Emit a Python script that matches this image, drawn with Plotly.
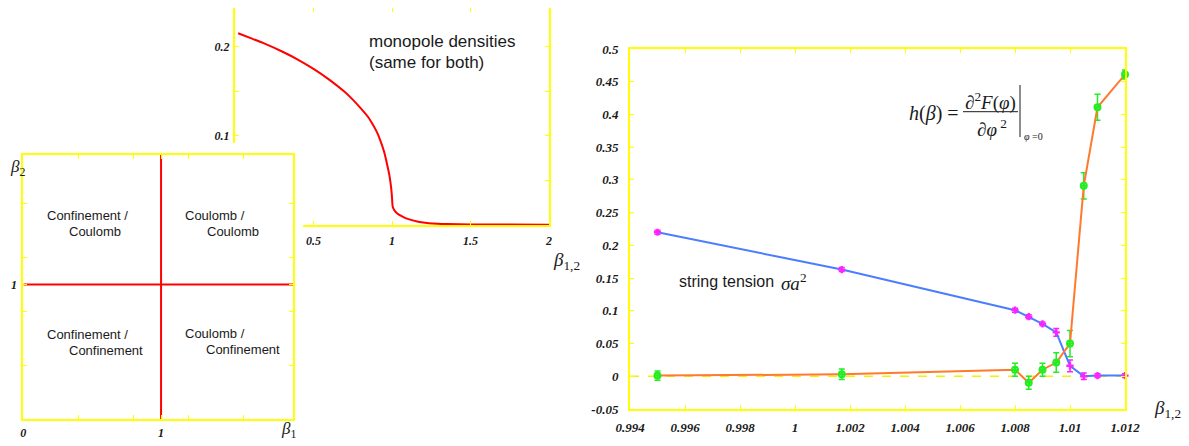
import plotly.graph_objects as go

W, H = 1189, 446
OFF = 8  # the page places the figure 8px from the top-left corner of the window
YEL = "#ffff00"
TXT = "#1a1a1a"

# ---------------- data ----------------
# middle panel: monopole density vs beta
rho_beta = [0.02, 0.1, 0.2, 0.3, 0.4, 0.5, 0.6, 0.7, 0.75, 0.8, 0.85, 0.875, 0.9, 0.92, 0.95, 0.97,
            0.985, 0.995, 1.0, 1.004, 1.012, 1.03, 1.07, 1.1, 1.16, 1.2, 1.26, 1.35, 1.5, 1.75, 2.0]
rho_val = [0.215, 0.2095, 0.2025, 0.1945, 0.1855, 0.175, 0.163, 0.149, 0.1405, 0.131, 0.1205, 0.1135,
           0.1055, 0.0975, 0.082, 0.067, 0.054, 0.041, 0.031, 0.021, 0.0175, 0.0135, 0.0092, 0.0068,
           0.0040, 0.0029, 0.0017, 0.0011, 0.0007, 0.0005, 0.0004]
mid_y_max = 0.25

# left panel: phase boundaries
crit_beta = 1.0
beta_span = [0.0, 1.96]

# right panel
beta_pts = [0.995, 1.0017, 1.008, 1.0085, 1.009, 1.0095, 1.010, 1.0105, 1.011, 1.012]
sigma = [0.220, 0.163, 0.101, 0.091, 0.080, 0.067, 0.016, 0.000, 0.001, 0.001]
sigma_err = [0.003, 0.003, 0.003, 0.003, 0.003, 0.006, 0.009, 0.005, 0.003, 0.003]
h_beta = [0.001, 0.003, 0.010, -0.010, 0.010, 0.021, 0.050, 0.291, 0.411, 0.461]
h_err = [0.007, 0.008, 0.010, 0.010, 0.010, 0.015, 0.020, 0.020, 0.020, 0.007]

right_xticks = [0.994, 0.996, 0.998, 1.0, 1.002, 1.004, 1.006, 1.008, 1.01, 1.012]
right_xtext = ["0.994", "0.996", "0.998", "1", "1.002", "1.004", "1.006", "1.008", "1.01", "1.012"]
right_yticks = [-0.05, 0, 0.05, 0.1, 0.15, 0.2, 0.25, 0.3, 0.35, 0.4, 0.45, 0.5]
right_ytext = ["-0.05", "0", "0.05", "0.1", "0.15", "0.2", "0.25", "0.3", "0.35", "0.4", "0.45", "0.5"]

mid_xticks = [0.5, 1, 1.5, 2]
mid_xtext = ["0.5", "1", "1.5", "2"]
mid_yticks = [0.1, 0.2]
mid_ytext = ["0.1", "0.2"]
mid_yminor = [0.05, 0.15]

left_xticks = [0, 1]
left_xtext = ["0", "1"]
left_yticks = [1]
left_ytext = ["1"]
left_minor = [0.4, 0.8, 1.2, 1.6]


def fx(p):
    return (p - OFF) / W


def fy(p):
    return 1 - (p - OFF) / H


def tfont(size):
    return dict(family="Liberation Serif", size=size, color=TXT, weight="bold", style="italic")


def axis(domain, rng, anchor, tickvals, ticktext, size, standoff, minor=None):
    d = dict(domain=domain, range=rng, anchor=anchor, showline=True, linecolor=YEL,
             linewidth=2, mirror="ticks", ticks="inside", ticklen=4, tickwidth=1,
             tickcolor=YEL, tickvals=tickvals, ticktext=ticktext, tickfont=tfont(size),
             showgrid=False, zeroline=False, ticklabelstandoff=standoff, automargin=False)
    if minor is not None:
        d["minor"] = dict(tickvals=minor, ticks="inside", ticklen=4, tickwidth=1,
                          tickcolor=YEL, showgrid=False)
    return d


fig = go.Figure()

# middle panel (subplot 1)
fig.add_trace(go.Scatter(x=rho_beta, y=rho_val, mode="lines",
                         line=dict(color="#ff0000", width=2, shape="spline", smoothing=0.6),
                         xaxis="x", yaxis="y", hoverinfo="skip"))
# cover (subplot 2): white background hiding part of middle panel
fig.add_trace(go.Scatter(x=[], y=[], xaxis="x2", yaxis="y2", hoverinfo="skip"))
# left panel (subplot 3)
fig.add_trace(go.Scatter(x=[crit_beta, crit_beta], y=beta_span, mode="lines",
                         line=dict(color="#ff0000", width=2), xaxis="x3", yaxis="y3", hoverinfo="skip"))
fig.add_trace(go.Scatter(x=beta_span, y=[crit_beta, crit_beta], mode="lines",
                         line=dict(color="#ff0000", width=2), xaxis="x3", yaxis="y3", hoverinfo="skip"))
# right panel (subplot 4)
fig.add_trace(go.Scatter(x=beta_pts, y=sigma, mode="lines+markers", xaxis="x4", yaxis="y4",
                         line=dict(color="#4a7dff", width=2), cliponaxis=False,
                         marker=dict(symbol="cross", size=6, color="#ff22ff"),
                         error_y=dict(type="data", array=sigma_err, color="#ff22ff", thickness=1.5, width=3)))
fig.add_trace(go.Scatter(x=beta_pts, y=h_beta, mode="lines+markers", xaxis="x4", yaxis="y4",
                         line=dict(color="#ff7a2e", width=2), cliponaxis=False,
                         marker=dict(symbol="circle-cross-open", size=6, color="#22ee22",
                                     line=dict(width=2, color="#22ee22")),
                         error_y=dict(type="data", array=h_err, color="#22ee22", thickness=1.5, width=3)))

# middle panel: its top edge sits above the figure's drawable area, clamp and rescale
mid_top = mid_y_max * (225 - OFF) / (225 - 2)

layout = dict(
    width=W, height=H, margin=dict(l=0, r=0, t=0, b=0, pad=0, autoexpand=False), showlegend=False,
    paper_bgcolor="white", plot_bgcolor="white",
    xaxis=axis([fx(235), fx(549)], [0, 2], "y", mid_xticks, mid_xtext, 12, 4),
    yaxis=axis([fy(225), 1.0], [0, mid_top], "x", mid_yticks, mid_ytext, 12, 1, mid_yminor),
    xaxis2=dict(domain=[0, fx(303)], range=[0, 1], anchor="y2", visible=False, automargin=False),
    yaxis2=dict(domain=[0, fy(143)], range=[0, 1], anchor="x2", visible=False, automargin=False),
    xaxis3=axis([fx(23.3), fx(293.3)], [0, 1.96], "y3", left_xticks, left_xtext, 12, 1, left_minor),
    yaxis3=axis([fy(419.3), fy(155)], [0, 1.96], "x3", left_yticks, left_ytext, 12, 2, left_minor),
    xaxis4=axis([fx(630), fx(1125)], [0.994, 1.012], "y4", right_xticks, right_xtext, 13, 5),
    yaxis4=axis([fy(409), fy(49)], [-0.05, 0.5], "x4", right_yticks, right_ytext, 13, 7),
)
fig.update_layout(**layout)

# dashed zero line on the right panel
fig.add_shape(type="line", xref="x4 domain", yref="y4", x0=0, x1=1, y0=0, y1=0,
              line=dict(color="#f2f200", width=1.5, dash="dash"), layer="below")

ann = []


def text(x, y, s, size=13, fam="Liberation Sans", xanchor="left", color=TXT):
    ann.append(dict(x=fx(x), y=fy(y), xref="paper", yref="paper", text=s, showarrow=False,
                    xanchor=xanchor, yanchor="middle", font=dict(family=fam, size=size, color=color)))


# left panel quadrant labels
text(45, 215, "Confinement /")
text(66.7, 231, "Coulomb")
text(183, 215, "Coulomb /")
text(205, 231, "Coulomb")
text(45, 334, "Confinement /")
text(66.7, 350.5, "Confinement")
text(183, 333.5, "Coulomb /")
text(204, 349.5, "Confinement")
text(8, 168, "<i>β</i><sub>2</sub>", size=17, fam="Liberation Serif")
text(279, 430, "<i>β</i><sub>1</sub>", size=17, fam="Liberation Serif")

# middle panel
text(367, 41.7, "monopole densities", size=17)
text(367, 62.7, "(same for both)", size=17)
text(551, 261, "<i>β</i><sub>1,2</sub>", size=19, fam="Liberation Serif")

# right panel
text(677, 281.5, "string tension", size=16)
text(779, 281.5, "<i>σa</i><sup>2</sup>", size=19, fam="Liberation Serif")
text(1152, 409, "<i>β</i><sub>1,2</sub>", size=19, fam="Liberation Serif")

# formula h(beta)
text(907, 113, "<i>h</i>(<i>β</i>) =", size=20, fam="Liberation Serif")
text(990, 101, "∂<sup>2</sup><i>F</i>(<i>φ</i>)", size=19, fam="Liberation Serif", xanchor="center")
text(992, 128.5, "∂<i>φ</i><sup> 2</sup>", size=19, fam="Liberation Serif", xanchor="center")
text(1022, 136.5, "<i>φ</i> =0", size=10, fam="Liberation Serif")
fig.update_layout(annotations=ann)

fig.add_shape(type="line", xref="paper", yref="paper", x0=fx(963), x1=fx(1018), y0=fy(111.7), y1=fy(111.7),
              line=dict(color=TXT, width=1))
fig.add_shape(type="line", xref="paper", yref="paper", x0=fx(1020), x1=fx(1020), y0=fy(85), y1=fy(137),
              line=dict(color=TXT, width=1))

fig.write_html("out.html")
